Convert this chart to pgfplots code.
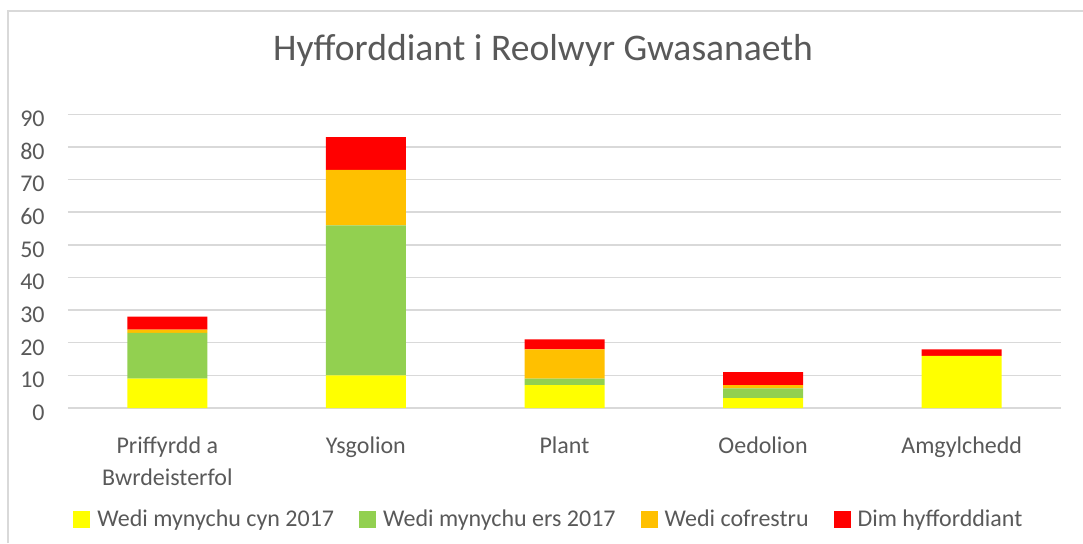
\documentclass[border=0pt]{standalone}
\usepackage{pgfplots}
\pgfplotsset{compat=1.18}
\usepackage{fontspec}
\setmainfont{Carlito}
\definecolor{cyel}{HTML}{FFFF00}
\definecolor{cgrn}{HTML}{92D050}
\definecolor{corg}{HTML}{FFC000}
\definecolor{cred}{HTML}{FF0000}
\definecolor{txt}{HTML}{595959}
\definecolor{grd}{HTML}{D9D9D9}
\begin{document}
\begin{tikzpicture}
\useasboundingbox (0,0) rectangle (541.5pt,271.5pt);
\draw[grd, line width=1pt] (4pt,0) -- (4pt,266pt) -- (541.5pt,266pt);
\node[anchor=base, text=txt, font=\fontsize{18.8}{22}\selectfont, inner sep=0pt] at (271.5pt,241.5pt) {Hyfforddiant i Reolwyr Gwasanaeth};
\begin{axis}[
  at={(34pt,67.5pt)}, anchor=south west,
  scale only axis, width=496.5pt, height=146.85pt,
  ybar stacked, bar width=40pt,
  xmin=-0.5, xmax=4.5, ymin=0, ymax=90,
  xtick={0,1,2,3,4},
  xticklabels={{Priffyrdd a\\Bwrdeisterfol},{Ysgolion\\\mbox{}},{Plant\\\mbox{}},{Oedolion\\\mbox{}},{Amgylchedd\\\mbox{}}},
  ytick={0,10,...,90},
  axis line style={draw=none},
  tick style={draw=none},
  ymajorgrids, grid style={grd, line width=0.75pt},
  /pgf/number format/assume math mode=true,
  ticklabel style={text=txt, font=\fontsize{12}{16}\selectfont, inner sep=0pt},
  yticklabel style={anchor=east, xshift=-11.5pt, yshift=-2.3pt},
  xticklabel style={anchor=base, align=center, yshift=-38.5pt},
  legend style={at={(0.00504,-0.3796)}, anchor=west, draw=none, fill=none,
    legend columns=4, font=\fontsize{12}{14}\selectfont, text=txt,
    nodes={inner sep=0pt},
    /tikz/every odd column/.append style={column sep=3.5pt},
    /tikz/every even column/.append style={column sep=12.5pt},
    inner sep=0pt},
  legend image code/.code={\fill[#1] (0pt,-4.25pt) rectangle (8.5pt,4.25pt);},
  every axis plot/.append style={draw=none},
]
\addplot[fill=cyel] coordinates {(0,9) (1,10) (2,7) (3,3) (4,16)};
\addplot[fill=cgrn] coordinates {(0,14) (1,46) (2,2) (3,3) (4,0)};
\addplot[fill=corg] coordinates {(0,1) (1,17) (2,9) (3,1) (4,0)};
\addplot[fill=cred] coordinates {(0,4) (1,10) (2,3) (3,4) (4,2)};
\legend{Wedi mynychu cyn 2017,Wedi mynychu ers 2017,Wedi cofrestru,Dim hyfforddiant}
\end{axis}
\end{tikzpicture}
\end{document}
